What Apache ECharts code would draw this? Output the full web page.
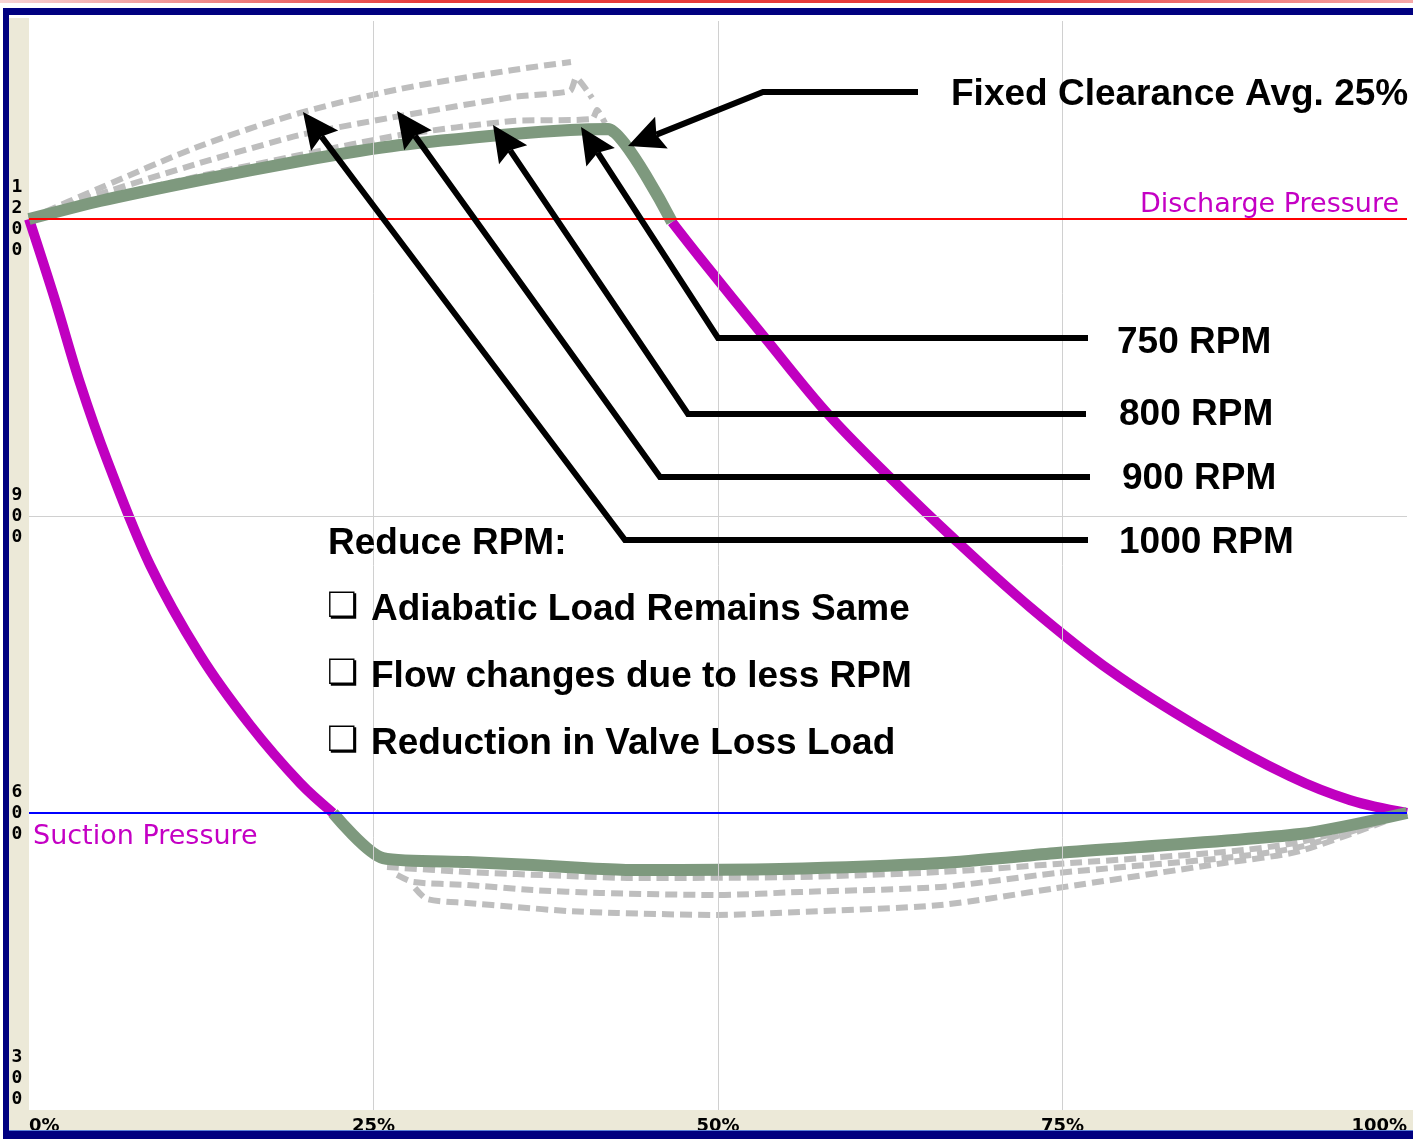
<!DOCTYPE html>
<html><head><meta charset="utf-8">
<script src="https://cdn.jsdelivr.net/npm/echarts@6/dist/echarts.min.js"></script>
<style>html,body{margin:0;padding:0;background:#fff}#c{width:1413px;height:1139px}</style>
</head><body><div id="c"></div>
<script>
// ---------------- DATA (x = % of stroke, y = pressure) ----------------
const xTickStep = 25;
const yTickStep = 300;
const xRange = [0, 100];
const yRange = [300, 1400];
const gridXValues = [25, 50, 75];
const gridYValues = [900];
const dischargePressure = 1200;
const suctionPressure = 600;

// adiabatic expansion / compression (shared by every RPM)
const expansionCurve = [[0,1200],[1.89,1118.2],[3.70,1034.3],[5.66,956.6],[8.78,850.5],[12.41,759.6],[16.04,688.9],[19.67,630.3],[22.06,600]];
const compressionCurve = [[46.66,1197],[48.69,1161],[53.41,1080],[57.98,1003],[62.48,939],[67.20,876],[72.64,808],[78.45,744],[84.98,686],[91.51,637],[95.86,613],[100,600]];

// 750 RPM (current)
const rpm750Discharge = [[0,1200],[5.15,1218.2],[12.41,1239.4],[19.67,1258.6],[26.92,1274.7],[35.12,1285.9],[39.26,1290],[42.02,1291],[46.66,1197]];
const rpm750Suction = [[22.06,600],[25.69,554.5],[31.79,550.5],[36.57,547.5],[40.20,544.4],[43.83,542.4],[54.50,543.4],[66.18,549.5],[74.60,559.6],[92.24,578.8],[100,600]];
// 800 RPM
const rpm800Discharge = [[0,1200],[5.15,1220.2],[12.41,1243.4],[19.67,1264.6],[26.92,1284.8],[35.12,1299],[40.86,1301],[41.22,1310],[41.80,1297]];
const rpm800Suction = [[25.98,545.5],[31.79,540.4],[39.04,536.4],[43.83,534.3],[55.95,535.4],[66.18,540.4],[74.60,548.5],[86.72,560.6],[92.24,570.7],[100,600]];
// 900 RPM
const rpm900Discharge = [[0,1200],[5.15,1225.3],[12.41,1256.6],[19.67,1284.8],[26.92,1304],[35.12,1323.2],[39.26,1329.3],[39.70,1342.4],[40.86,1322.2]];
const rpm900Suction = [[26.71,537.4],[27.87,530.3],[31.79,527.3],[36.57,522.2],[41.44,519.2],[49.93,517.2],[55.95,520.2],[66.18,525.3],[74.60,539.4],[86.72,554.5],[92.24,565.7],[100,600]];
// 1000 RPM
const rpm1000Discharge = [[0,1200],[5.15,1231.3],[12.41,1273.7],[19.67,1307.1],[26.92,1331.3],[35.12,1350.5],[39.33,1358.6]];
const rpm1000Suction = [[28.01,524.2],[28.88,513.1],[31.79,509.1],[35.41,505],[39.04,501],[42.67,499],[49.93,497],[55.95,500],[66.18,507.1],[74.60,524.2],[86.72,549.5],[92.24,561.6],[100,600]];

// ---------------- TEXT ----------------
const titleText = 'Fixed Clearance Avg. 25%';
const rpmLabels = ['750 RPM', '800 RPM', '900 RPM', '1000 RPM'];
const noteHeader = 'Reduce RPM:';
const noteItems = ['Adiabatic Load Remains Same', 'Flow changes due to less RPM', 'Reduction in Valve Loss Load'];

// ---------------- LAYOUT / STYLE ----------------
const W = 1413, H = 1139;
const GRID = {left: 29, right: 6, top: 21, bottom: 29};
const PURPLE = '#c000c0', GREEN = '#7e997e', GRAY = '#bebebe';
const BEIGE = '#ECE9D8', NAVY = '#000080';
const BOLD = 'bold 37px "Liberation Sans", Arial, sans-serif';

const chart = echarts.init(document.getElementById('c'), null, {renderer: 'canvas', width: W, height: H});

function lineSeries(data, color, width, dashed, z, smooth) {
  return {
    type: 'line', data: data, showSymbol: false, symbol: 'none', smooth: smooth, silent: true, z: z,
    lineStyle: {color: color, width: width, type: dashed ? [12, 6] : 'solid', join: 'round'},
    animation: false
  };
}

const series = [
  {
    type: 'line', data: [], z: 1, silent: true, animation: false,
    markLine: {
      silent: true, symbol: 'none', animation: false, label: {show: false},
      data: gridXValues.map(v => ({xAxis: v, lineStyle: {color: '#d0d0d0', width: 1, type: 'solid'}}))
        .concat(gridYValues.map(v => ({yAxis: v, lineStyle: {color: '#d0d0d0', width: 1, type: 'solid'}})))
        .concat([
          {yAxis: dischargePressure, lineStyle: {color: '#ff0000', width: 2, type: 'solid'}},
          {yAxis: suctionPressure, lineStyle: {color: '#0000ff', width: 2, type: 'solid'}}
        ])
    }
  },
  lineSeries(rpm1000Discharge, GRAY, 6, true, 2, 0.3),
  lineSeries(rpm900Discharge, GRAY, 6, true, 2, 0.2),
  lineSeries(rpm800Discharge, GRAY, 6, true, 2, 0.2),
  lineSeries(rpm1000Suction, GRAY, 6, true, 2, 0.25),
  lineSeries(rpm900Suction, GRAY, 6, true, 2, 0.25),
  lineSeries(rpm800Suction, GRAY, 6, true, 2, 0.25),
  lineSeries(expansionCurve, PURPLE, 10, false, 3, 0.35),
  lineSeries(compressionCurve, PURPLE, 10, false, 3, 0.35),
  lineSeries(rpm750Discharge, GREEN, 12, false, 4, 0.2),
  lineSeries(rpm750Suction, GREEN, 12, false, 4, 0.25)
];

// ---------- annotation graphics ----------
const graphics = [];
// frame
graphics.push({type: 'rect', z: -1, shape: {x: 9, y: 18, width: GRID.left - 9, height: H - 18}, style: {fill: BEIGE}});
graphics.push({type: 'rect', z: -1, shape: {x: 9, y: H - GRID.bottom, width: W - 9, height: GRID.bottom}, style: {fill: BEIGE}});
graphics.push({type: 'rect', z: 50, shape: {x: 0, y: 0, width: W, height: 3},
  style: {fill: new echarts.graphic.LinearGradient(0, 0, 1, 0, [
    {offset: 0, color: '#f7d4d4'}, {offset: 0.3, color: '#e63a3a'}, {offset: 0.7, color: '#e63a3a'}, {offset: 1, color: '#f6a8a8'}])}});
graphics.push({type: 'rect', z: 50, shape: {x: 3, y: 8, width: W - 3, height: 7}, style: {fill: NAVY}});
graphics.push({type: 'rect', z: 50, shape: {x: 3, y: 8, width: 6, height: H - 8}, style: {fill: NAVY}});
graphics.push({type: 'rect', z: 50, shape: {x: 3, y: 1131, width: W - 3, height: 8}, style: {fill: NAVY}});
graphics.push({type: 'rect', z: 50, shape: {x: 9, y: 1130, width: W - 9, height: 1}, style: {fill: '#5a7fd6'}});

// arrows (pixel layout)
const arrows = [
  [[918, 92], [763, 92], [628, 146]],
  [[1088, 338], [718, 338], [581, 127]],
  [[1086, 414], [688, 414], [493, 125]],
  [[1090, 477], [660, 477], [397, 111]],
  [[1088, 540], [625, 540], [303, 112]]
];
const HEAD_L = 36, HEAD_W = 17;
arrows.forEach(pts => {
  const tip = pts[pts.length - 1], prev = pts[pts.length - 2];
  let dx = tip[0] - prev[0], dy = tip[1] - prev[1];
  const len = Math.hypot(dx, dy); dx /= len; dy /= len;
  const nx = -dy, ny = dx;
  const bx = tip[0] - dx * HEAD_L, by = tip[1] - dy * HEAD_L;
  const notch = [tip[0] - dx * HEAD_L * 0.85, tip[1] - dy * HEAD_L * 0.85];
  const shaft = pts.slice(0, -1).concat([notch]);
  graphics.push({type: 'polyline', z: 60, shape: {points: shaft}, style: {stroke: '#000', lineWidth: 6, fill: null, lineJoin: 'miter'}});
  graphics.push({type: 'polygon', z: 60, shape: {points: [tip, [bx + nx * HEAD_W, by + ny * HEAD_W], notch, [bx - nx * HEAD_W, by - ny * HEAD_W]]}, style: {fill: '#000'}});
});

function txt(t, x, y, font, fill, align) {
  graphics.push({type: 'text', z: 70, style: {text: t, x: x, y: y, font: font, fill: fill, align: align || 'left', verticalAlign: 'middle'}});
}
txt(titleText, 951, 95, BOLD, '#000');
const rpmPos = [[1117, 343], [1119, 415], [1122, 479], [1119, 543]];
rpmLabels.forEach((t, i) => txt(t, rpmPos[i][0], rpmPos[i][1], BOLD, '#000'));
txt(noteHeader, 328, 544, BOLD, '#000');
const itemY = [610, 677, 744];
noteItems.forEach((t, i) => {
  txt('\u274F', 327, itemY[i] - 2, '35px "DejaVu Sans", sans-serif', '#000');
  txt(t, 371, itemY[i], BOLD, '#000');
});
txt('Discharge Pressure', 1399, 205, '27px "DejaVu Sans", Verdana, sans-serif', '#c400c4', 'right');
txt('Suction Pressure', 33, 837, '27px "DejaVu Sans", Verdana, sans-serif', '#c400c4', 'left');

chart.setOption({
  animation: false,
  backgroundColor: '#ffffff',
  grid: {left: GRID.left, right: GRID.right, top: GRID.top, bottom: GRID.bottom, containLabel: false},
  xAxis: {
    type: 'value', min: xRange[0], max: xRange[1], interval: xTickStep,
    axisLine: {show: false}, axisTick: {show: false}, splitLine: {show: false},
    axisLabel: {formatter: '{value}%', color: '#000', fontWeight: 'bold', fontSize: 18, fontFamily: '"DejaVu Sans", sans-serif',
      margin: 7, alignMinLabel: 'left', alignMaxLabel: 'right'}
  },
  yAxis: {
    type: 'value', min: yRange[0], max: yRange[1], interval: yTickStep,
    axisLine: {show: false}, axisTick: {show: false}, splitLine: {show: false},
    axisLabel: {formatter: v => String(v).split('').join('\n'), color: '#000', fontWeight: 'bold', fontSize: 18,
      lineHeight: 21, fontFamily: '"DejaVu Sans Mono", monospace', align: 'center', margin: 12,
      showMaxLabel: false, verticalAlignMinLabel: 'bottom'}
  },
  series: series,
  graphic: graphics
});
</script></body></html>
